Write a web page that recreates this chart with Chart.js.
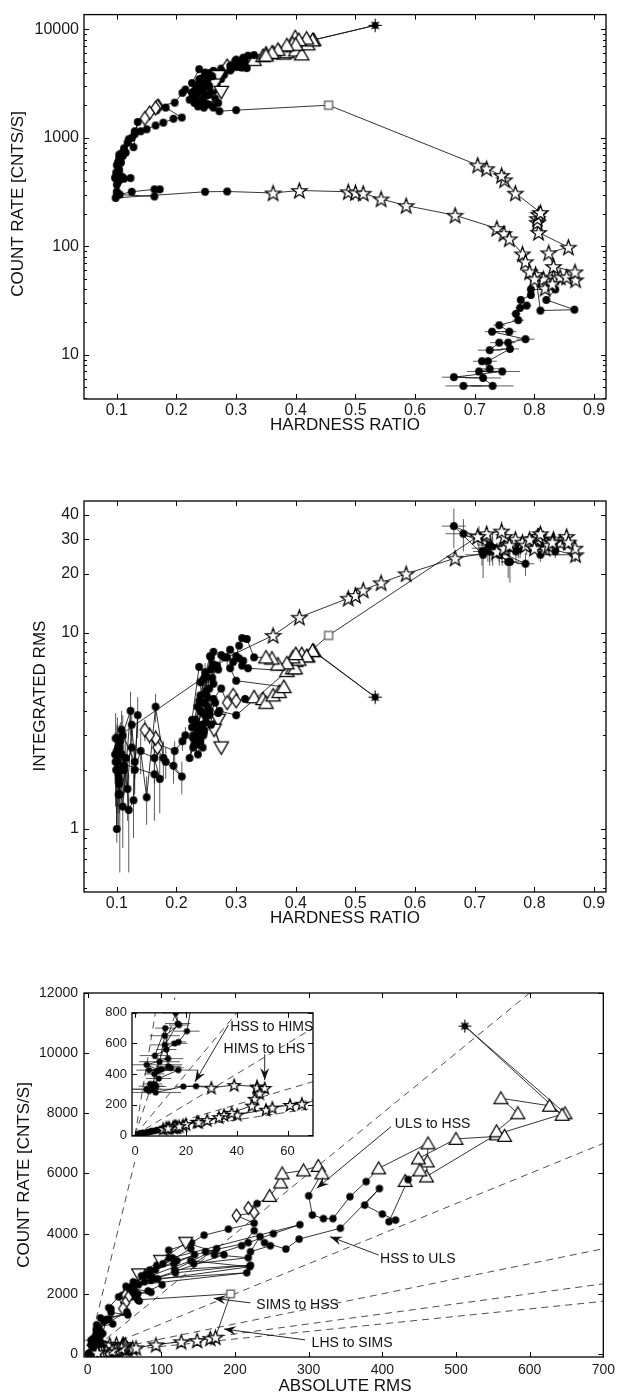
<!DOCTYPE html>
<html><head><meta charset="utf-8">
<script src="https://cdn.jsdelivr.net/npm/chart.js@4.4.1/dist/chart.umd.min.js"></script>
<style>
html,body{margin:0;padding:0;background:#fff;}
#wrap{position:relative;width:620px;height:1396px;overflow:hidden;background:#fff;}
canvas{position:absolute;}
</style></head>
<body><div id="wrap">
<canvas id="c1" width="620" height="445" style="left:0;top:0"></canvas>
<canvas id="c2" width="620" height="480" style="left:0;top:460px"></canvas>
<canvas id="c3" width="620" height="446" style="left:0;top:950px"></canvas>
<canvas id="c4" width="240" height="162" style="left:95px;top:1000px"></canvas>
</div>
<script>
const FONT = "'Liberation Sans', Arial, Helvetica, sans-serif";

// ---------- tick labels ----------
const hrTicks = [0.1,0.2,0.3,0.4,0.5,0.6,0.7,0.8,0.9];
const hrTickLabels = ['0.1','0.2','0.3','0.4','0.5','0.6','0.7','0.8','0.9'];
const rateLogTicks = [10,100,1000,10000];
const rateLogLabels = ['10','100','1000','10000'];
const rmsTicks = [1,10,20,30,40];
const rmsTickLabels = ['1','10','20','30','40'];
const absTicks = [0,100,200,300,400,500,600,700];
const absTickLabels = ['0','100','200','300','400','500','600','700'];
const rateLinTicks = [0,2000,4000,6000,8000,10000,12000];
const rateLinLabels = ['0','2000','4000','6000','8000','10000','12000'];
const insetAbsTicks = [0,20,40,60];
const insetAbsLabels = ['0','20','40','60'];
const insetRateTicks = [0,200,400,600,800];
const insetRateLabels = ['0','200','400','600','800'];
const rmsLevelsMain = [1,5,10,20,30,40];
const rmsLevelsInset = [1,2,5,10,20,30,40];

// ---------- data: tracks in time order (hardness, count rate, integrated rms %, absolute rms, marker) ----------
// markers: o filled circle, p star, ^ triangle, v down triangle, d diamond, s square, * asterisk
const riseLowHR   = [.681,.730,.714,.665,.746,.707,.725,.712,.722,.759,.725,.741,.756,.785,.729,.758,.741,.773,.769,.776,.787,.777,.794,.794,.835,.820,.867,.810];
const riseLowRate = [5.15,5.15,6.1,6.2,7.0,7.0,7.4,8.7,8.7,11.3,11,12.9,12.9,13.9,16.3,16.3,18.7,20.8,23.8,27,28.4,32,35.5,40,40,32,26,25.5];
const riseLowRms  = [32,27,25,35,27,31,28,26,27,23,26,25,23,22.5,27,27,26,27,26,27,28,27,28,27,26,27,25,25];
const riseLowAbs  = [1.6,1.4,1.5,2.2,1.9,2.2,2.1,2.3,2.3,2.6,2.9,3.2,3.0,3.1,4.4,4.4,4.9,5.6,6.2,7.3,8.0,8.6,9.9,10.8,10.4,8.6,6.5,6.4];
const riseLowMk   = 'o'.repeat(28);
const riseLowHRErr  = [.03,.035,.03,.02,.03,.02,.02,.015,.015,.015,.02,.015,.012,.015,.012,.012,.01,.01,.008,.008,.008,.006,.006,.006,.006,.006,.006,.006];
const riseLowRmsErr = [6,5,6,8,5,4,5,4,4,5,4,3,4,3,4,3,3,3,3,3,3,2,2,2,2,2,2,2];

const riseHardHR   = [.802,.818,.815,.832,.843,.854,.869,.868,.832,.824,.857,.807,.805,.805,.807,.810,.768,.750,.745,.720,.705,.455];
const riseHardRate = [55,41,50,52,52,52,49,58,65,87,98,134,166,180,197,205,309,410,450,520,560,2000];
const riseHardRms  = [30,27,30,30,29,31,25,27,29,28,29,30,31,30,31,32,30,31,33,32,31,9.7];
const riseHardAbs  = [16.5,11.1,15,15.6,15.1,16.1,12.3,15.7,18.9,24.4,28.4,40.2,51.5,54,61,65.6,92.7,127,148.5,166.4,173.6,194];
const riseHardMk   = 'p'.repeat(21) + 's';
const riseHardRmsErr = [2,2,2,2,2,2,2,2,2,2,2,2,2,2,2,2,2,3,4,3,3,0.3];

const hssRiseHR   = [.300,.272,.262,.245,.232,.228,.236,.242,.238,.248,.255,.262,.275];
const hssRiseRate = [1800,1760,1900,2100,2350,2650,2950,3200,3450,3700,3950,4150,4350];
const hssRiseRms  = [3.8,4.0,3.4,3.0,2.7,2.9,3.2,3.4,3.2,3.8,4.0,4.6,5.2];
const hssRiseAbs  = [68,70,65,63,63,77,94,109,110,141,158,191,226];
const hssRiseMk   = 'o'.repeat(13);

const ulsRiseHR   = [.285,.295,.300,.315,.330,.345,.350,.362,.372,.380];
const ulsRiseRate = [4600,4700,4850,5000,5250,5700,6000,6100,6250,6000];
const ulsRiseRms  = [4.4,4.8,4.5,4.6,4.7,4.6,4.4,4.8,5.0,5.3];
const ulsRiseAbs  = [202,226,218,230,247,262,264,293,313,318];
const ulsRiseMk   = 'dddo^^^^^^';

const dipHR   = [.300,.290,.295,.305,.310,.320];
const dipRate = [5260,4620,4500,4500,5230,5730];
const dipRms  = [5.7,6.6,7.1,7.4,6.8,6.6];
const dipAbs  = [300,305,320,333,356,378];
const dipMk   = 'oooooo';

const peakHR   = [.385,.395,.400,.410,.420,.430,.533];
const peakRate = [6170,7000,6400,5900,7300,8000,10900];
const peakRms  = [6.4,6.6,7.2,7.8,7.6,8.1,4.7];
const peakAbs  = [395,462,461,460,555,648,512];
const peakMk   = '^^^^^^*';

const ulsDecHR   = [.428,.418,.399,.405,.395,.400,.385,.370,.360,.350];
const ulsDecRate = [7950,8250,8500,8000,7400,7250,7150,6500,6100,5750];
const ulsDecRms  = [8.1,7.6,6.6,7.3,7.5,7.8,7.0,6.9,7.4,7.5];
const ulsDecAbs  = [644,627,561,584,555,566,500,449,451,431];
const ulsDecMk   = '^'.repeat(10);

const decAHR   = [.330,.318,.310,.305,.300,.312,.290,.280,.275,.270,.262];
const decARate = [5800,4400,4450,4650,4950,5500,4180,3820,3490,3700,3600];
const decARms  = [7.5,9.3,9.4,8.6,7.6,7.2,8.2,7.5,7.7,6.5,6.9];
const decAAbs  = [435,409,418,400,376,396,343,287,269,240,248];
const decAMk   = 'o'.repeat(11);

const decBHR   = [.258,.250,.262,.245,.255,.268,.240,.250,.235,.258,.245,.232,.262,.228,.240,.250,.256,.238,.226,.244,.252,.236,.230,.246,.240];
const decBRate = [3400,3900,4100,3600,3300,3200,3000,3500,2800,2950,2700,2500,2700,2300,2200,2450,2900,3100,2600,2200,2050,1950,2100,2400,3300];
const decBRms  = [6.5,6.0,5.5,5.8,5.2,6.8,4.8,5.0,4.2,7.5,4.4,3.6,8.0,3.0,2.8,3.5,7.6,4.5,3.3,2.6,4.2,2.4,2.7,3.2,5.6];
const decBAbs  = [221,234,226,209,172,218,144,175,118,221,119,90,216,69,62,86,220,140,86,57,86,47,57,77,185];
const decBMk   = 'o'.repeat(25);

const decCHR   = [.270,.263,.275,.255,.248,.240];
const decCRate = [3700,3100,2650,3000,3300,3500];
const decCRms  = [3.6,3.2,2.6,3.9,4.4,4.0];
const decCAbs  = [133,99,69,117,145,140];
const decCMk   = 'vvvooo';

const decEHR   = [.235,.228,.222,.232,.244,.252,.260,.248,.238,.226,.234,.243,.255,.265,.270,.258,.246,.236];
const decERate = [2600,2400,2250,2800,3100,3400,3700,4000,4300,3200,3000,2750,2500,2300,2100,2000,1900,2050];
const decERms  = [3.0,2.6,2.3,3.3,3.9,4.7,5.9,6.3,6.7,3.6,3.4,3.1,3.8,4.4,3.9,3.4,3.1,2.7];
const decEAbs  = [78,62,52,92,121,160,218,252,288,115,102,85,95,101,82,68,59,55];
const decEMk   = 'o'.repeat(18);

const arcHR   = [.215,.210,.197,.170,.168,.165,.155,.147,.182,.209,.195,.178,.165,.150,.140,.130,.135,.128,.120,.115,.107,.104,.100,.098,.110,.123,.100];
const arcRate = [2790,2600,2110,1950,1950,1880,1700,1510,1900,1540,1500,1380,1300,1200,1150,1080,1400,820,970,730,590,500,460,425,425,425,370];
const arcRms  = [3.0,2.8,2.5,2.7,2.6,2.9,3.0,3.2,2.2,1.85,2.1,2.3,4.2,1.45,2.5,2.0,3.8,1.4,1.25,2.3,2.0,2.6,1.0,2.2,1.3,4.0,2.5];
const arcAbs  = [84,73,53,53,51,55,51,48,42,28.5,31.5,31.7,54.6,17.4,28.8,21.6,53.2,11.5,12.1,16.8,11.8,13,4.6,9.4,5.5,17,9.3];
const arcMk   = 'ooo' + 'ddddd' + 'o'.repeat(19);
const arcRmsErr = [.3,.3,.3,.3,.3,.3,.3,.4,.4,.35,.4,.5,.7,.4,.6,.5,.9,.5,.65,.7,.7,.8,.15,.9,.5,1.0,.9];
const arcAbsErr = [0,0,0,0,0,0,0,0,0,0,0,0,0,0,0,0,0,4,0,5,6,6,14,5,5,8,5];

const softHR   = [.103,.099,.104,.108,.112,.118,.125,.130,.110,.106,.102,.100,.103,.104,.101,.097,.108,.112];
const softRate = [400,480,650,720,800,900,1000,1150,680,610,600,560,520,700,450,430,440,420];
const softRms  = [1.9,2.0,1.8,2.4,2.0,1.6,3.4,2.2,3.0,2.8,2.6,2.2,1.5,1.7,2.9,2.4,3.2,2.1];
const softAbs  = [7.6,9.6,11.7,17.3,16,14.4,34,25.3,20.4,17.1,15.6,12.3,7.8,11.9,13.1,10.3,14.1,8.8];
const softMk   = 'o'.repeat(18);
const softRmsErr = [.6,.7,.6,.6,.5,.5,.6,.4,.8,.7,.7,.6,.5,.5,.8,.7,.8,.6];
const softAbsErr = [4,8,6,4,5,4,0,0,5,3,5,4,6,4,5,3,5,3];

const lowHR   = [.100,.105,.125,.163,.172,.163,.100,.098,.248,.285,.362,.406,.488,.500,.513,.543,.585,.667,.737,.749,.758,.780,.785,.792,.800,.830];
const lowRate = [320,300,318,335,335,288,300,279,318,320,310,327,318,312,308,273,237,193,146,131,117,85,72,58,50,45];
const lowRms  = [2.0,1.5,2.6,2.3,1.8,1.9,2.2,2.9,6.0,7.5,9.7,12,15,15.5,16.5,18,20,24,26,27,28,29,28,30,27,29];
const lowAbs  = [6.4,4.5,8.3,7.7,6.0,5.5,6.6,8.1,19,24,30,39,48,48,51,49,47,46,38,35,33,25,20,17.4,13.5,13];
const lowMk   = 'o'.repeat(10) + 'p'.repeat(16);
const lowRmsErr = [.8,.9,.7,.6,.6,.8,.9,1.0,1.0,1.0,.6,.6,.6,.6,.7,.7,.8,1,1,1,1,1,1,1,1,1];
const lowAbsErr = [5,6,4,3,3,3,8,10,3,3,0,0,0,0,0,0,0,0,0,0,0,0,0,0,0,0];

const tracks = [
  {hr:riseLowHR, rate:riseLowRate, rms:riseLowRms, abs:riseLowAbs, mk:riseLowMk, hrErr:riseLowHRErr, rmsErr:riseLowRmsErr},
  {hr:riseHardHR, rate:riseHardRate, rms:riseHardRms, abs:riseHardAbs, mk:riseHardMk, rmsErr:riseHardRmsErr},
  {hr:hssRiseHR, rate:hssRiseRate, rms:hssRiseRms, abs:hssRiseAbs, mk:hssRiseMk},
  {hr:ulsRiseHR, rate:ulsRiseRate, rms:ulsRiseRms, abs:ulsRiseAbs, mk:ulsRiseMk},
  {hr:dipHR, rate:dipRate, rms:dipRms, abs:dipAbs, mk:dipMk},
  {hr:peakHR, rate:peakRate, rms:peakRms, abs:peakAbs, mk:peakMk},
  {hr:ulsDecHR, rate:ulsDecRate, rms:ulsDecRms, abs:ulsDecAbs, mk:ulsDecMk},
  {hr:decAHR, rate:decARate, rms:decARms, abs:decAAbs, mk:decAMk},
  {hr:decBHR, rate:decBRate, rms:decBRms, abs:decBAbs, mk:decBMk},
  {hr:decCHR, rate:decCRate, rms:decCRms, abs:decCAbs, mk:decCMk},
  {hr:decEHR, rate:decERate, rms:decERms, abs:decEAbs, mk:decEMk},
  {hr:arcHR, rate:arcRate, rms:arcRms, abs:arcAbs, mk:arcMk, rmsErr:arcRmsErr, absErr:arcAbsErr},
  {hr:softHR, rate:softRate, rms:softRms, abs:softAbs, mk:softMk, rmsErr:softRmsErr, absErr:softAbsErr},
  {hr:lowHR, rate:lowRate, rms:lowRms, abs:lowAbs, mk:lowMk, rmsErr:lowRmsErr, absErr:lowAbsErr}
];
function cat(key){
  const out=[];
  tracks.forEach(t=>{ const a=t[key]; for(let i=0;i<t.hr.length;i++){ out.push(a ? a[i] : 0); } });
  return out;
}
const allHR=cat('hr'), allRate=cat('rate'), allRms=cat('rms'), allAbs=cat('abs'), allMk=cat('mk');
const allHRErr=cat('hrErr'), allRmsErr=cat('rmsErr'), allAbsErr=cat('absErr');

// ---------- annotations (panel 3 data coordinates) ----------
const mainNotes = [
  {text:'ULS to HSS',  tx:417, ty:7510, ax0:412, ay0:7560, ax1:311, ay1:5510},
  {text:'HSS to ULS',  tx:397, ty:3035, ax0:395, ay0:3290, ax1:329, ay1:3900},
  {text:'SIMS to HSS', tx:229, ty:1486, ax0:221, ay0:1700, ax1:171, ay1:1850},
  {text:'LHS to SIMS', tx:304, ty:243,  ax0:295, ay0:470,  ax1:185, ay1:830}
];
const insetNotes = [
  {text:'HSS to HIMS', tx:37.4, ty:678, ax0:36.7, ay0:720, ax1:23.6, ay1:349},
  {text:'HIMS to LHS', tx:34.8, ty:540, ax0:51, ay0:529, ax1:51, ay1:360}
];

// ---------- marker images ----------
function markerSet(s){
  const lw=1.25;
  function cv(w,h,draw){
    const c=document.createElement('canvas'); c.width=Math.ceil(w); c.height=Math.ceil(h);
    const g=c.getContext('2d'); g.translate(c.width/2,c.height/2);
    g.lineWidth=lw; g.strokeStyle='#000'; g.fillStyle='#fff'; g.lineJoin='miter'; draw(g); return c;
  }
  const R=8.0*s, r=R*0.40;
  return {
    o: cv(9*s+3,9*s+3,g=>{g.beginPath();g.arc(0,0,3.9*s,0,2*Math.PI);g.fillStyle='#000';g.fill();}),
    p: cv(2*R+3,2*R+3,g=>{g.beginPath();for(let k=0;k<10;k++){const rr=k%2?r:R;const a=-Math.PI/2+k*Math.PI/5;g.lineTo(rr*Math.cos(a),rr*Math.sin(a)+R*0.095);}g.closePath();g.fill();g.stroke();}),
    '^': cv(16*s+3,15*s+3,g=>{const w=7.2*s,h=12.4*s;g.beginPath();g.moveTo(0,-h*0.55);g.lineTo(w,h*0.45);g.lineTo(-w,h*0.45);g.closePath();g.fill();g.stroke();}),
    v: cv(16*s+3,15*s+3,g=>{const w=7.2*s,h=12.4*s;g.beginPath();g.moveTo(0,h*0.55);g.lineTo(w,-h*0.45);g.lineTo(-w,-h*0.45);g.closePath();g.fill();g.stroke();}),
    d: cv(10*s+3,15*s+3,g=>{const w=4.6*s,h=6.8*s;g.beginPath();g.moveTo(0,-h);g.lineTo(w,0);g.lineTo(0,h);g.lineTo(-w,0);g.closePath();g.fill();g.stroke();}),
    s: cv(9*s+3,9*s+3,g=>{const a=4*s;g.strokeStyle='#555';g.fillRect(-a,-a,2*a,2*a);g.strokeRect(-a,-a,2*a,2*a);}),
    '*': cv(15*s+2,15*s+2,g=>{g.beginPath();g.arc(0,0,3.4*s,0,2*Math.PI);g.fillStyle='#000';g.fill();g.lineWidth=1.1;g.beginPath();for(let k=0;k<8;k++){const a=k*Math.PI/4;const L=(k%2?5.2:6.8)*s;g.moveTo(0,0);g.lineTo(L*Math.cos(a),L*Math.sin(a));}g.stroke();})
  };
}

// ---------- helpers ----------
function logMarks(min,max,labelled){
  const out=[];
  for(let d=Math.floor(Math.log10(min)); d<=Math.ceil(Math.log10(max)); d++){
    for(let m=1;m<10;m++){ const v=m*Math.pow(10,d); if(v>=min && v<=max) out.push({v, major: m===1 || labelled.includes(v)}); }
  }
  return out;
}
function linMarks(arr){ return arr.map(v=>({v, major:true})); }

function axis(type,min,max,ticks,labels,size,pad,pos,fit){
  return {
    type, position:pos, min, max,
    grid:{display:false, drawTicks:false, drawOnChartArea:false},
    border:{display:false},
    ticks:{autoSkip:false, maxRotation:0, minRotation:0, padding:pad, color:'#1a1a1a',
      font:{family:FONT, size}, callback:(v,i)=>labels[i]},
    afterBuildTicks:s=>{ s.ticks = ticks.map(v=>({value:v})); },
    afterFit:s=>{ if(pos==='left') s.width=fit; else s.height=fit; }
  };
}

const extras = new Map();
const framePlugin = {
  id:'frame',
  beforeDraw(chart){
    const e=extras.get(chart.canvas.id); if(!e||!e.bg) return;
    const c=chart.ctx; c.save(); c.fillStyle='#fff'; c.fillRect(e.bg[0],e.bg[1],e.bg[2],e.bg[3]); c.restore();
  },
  beforeDatasetsDraw(chart){
    const e=extras.get(chart.canvas.id); if(!e) return;
    const c=chart.ctx, a=chart.chartArea, xs=chart.scales.x, ys=chart.scales.y;
    c.save(); c.beginPath(); c.rect(a.left,a.top,a.right-a.left,a.bottom-a.top); c.clip();
    c.strokeStyle='#333'; c.lineWidth=0.8; c.beginPath();
    e.xs.forEach((x,i)=>{
      const y=e.ys[i]; const px=xs.getPixelForValue(x), py=ys.getPixelForValue(y);
      const ex=e.xErr?e.xErr[i]:0, ey=e.yErr?e.yErr[i]:0;
      if(ex>0){ c.moveTo(xs.getPixelForValue(x-ex),py); c.lineTo(xs.getPixelForValue(x+ex),py); }
      if(ey>0){ const lo=Math.max(y-ey, ys.min*1.0001); c.moveTo(px,ys.getPixelForValue(lo)); c.lineTo(px,ys.getPixelForValue(y+ey)); }
    });
    c.stroke(); c.restore();
  },
  afterDraw(chart){
    const e=extras.get(chart.canvas.id); if(!e) return;
    const c=chart.ctx, a=chart.chartArea, xs=chart.scales.x, ys=chart.scales.y;
    c.save();
    c.strokeStyle='#000'; c.lineWidth=1; c.beginPath();
    e.xMarks.forEach(t=>{ const p=Math.round(xs.getPixelForValue(t.v))+0.5; const L=t.major?5:3;
      c.moveTo(p,a.bottom); c.lineTo(p,a.bottom-L); c.moveTo(p,a.top); c.lineTo(p,a.top+L); });
    e.yMarks.forEach(t=>{ const p=Math.round(ys.getPixelForValue(t.v))+0.5; const L=t.major?5:3;
      c.moveTo(a.left,p); c.lineTo(a.left+L,p); c.moveTo(a.right,p); c.lineTo(a.right-L,p); });
    c.stroke();
    c.lineWidth=1.3; c.strokeRect(a.left,a.top,a.right-a.left,a.bottom-a.top);
    c.fillStyle='#111';
    (e.titles||[]).forEach(t=>{
      c.save(); c.font=t.size+'px '+FONT; c.textAlign='center';
      if(t.rot){ c.translate(t.x,t.y); c.rotate(-Math.PI/2); c.textBaseline='middle'; c.fillText(t.text,0,0); }
      else { c.textBaseline='alphabetic'; c.fillText(t.text,t.x,t.y); }
      c.restore();
    });
    (e.notes||[]).forEach(n=>{
      c.font='14px '+FONT; c.textAlign='left'; c.textBaseline='alphabetic'; c.fillStyle='#111';
      c.fillText(n.text, xs.getPixelForValue(n.tx), ys.getPixelForValue(n.ty));
      const x0=xs.getPixelForValue(n.ax0), y0=ys.getPixelForValue(n.ay0), x1=xs.getPixelForValue(n.ax1), y1=ys.getPixelForValue(n.ay1);
      c.strokeStyle='#111'; c.lineWidth=0.9; c.beginPath(); c.moveTo(x0,y0); c.lineTo(x1,y1); c.stroke();
      const ang=Math.atan2(y1-y0,x1-x0), L=12, W=4.5;
      const bx=x1-L*Math.cos(ang), by=y1-L*Math.sin(ang);
      const nx=x1-L*0.65*Math.cos(ang), ny=y1-L*0.65*Math.sin(ang);
      c.beginPath(); c.moveTo(x1,y1);
      c.lineTo(bx+W*Math.sin(ang), by-W*Math.cos(ang));
      c.lineTo(nx,ny);
      c.lineTo(bx-W*Math.sin(ang), by+W*Math.cos(ang));
      c.closePath(); c.fill();
    });
    c.restore();
  }
};

function makeChart(id, o){
  const imgs = markerSet(o.ms);
  const datasets = [{
    data: o.xs.map((x,i)=>({x, y:o.ys[i]})),
    showLine:true, borderColor:'#111', borderWidth:0.85, tension:0,
    pointStyle: allMk.map(k=>imgs[k]), pointRadius:4, pointHoverRadius:4, order:0
  }];
  (o.refLevels||[]).forEach(r=>{
    datasets.push({ data:[{x:0,y:0},{x:o.refX, y:o.refX*100/r}], showLine:true, borderColor:'#222',
      borderWidth:0.8, borderDash:[7,5], pointRadius:0, pointHoverRadius:0, order:5 });
  });
  extras.set(id, {xs:o.xs, ys:o.ys, xErr:o.xErr, yErr:o.yErr, xMarks:o.xMarks, yMarks:o.yMarks, titles:o.titles, notes:o.notes, bg:o.bg});
  return new Chart(document.getElementById(id), {
    type:'scatter',
    data:{datasets},
    options:{
      responsive:false, animation:false, devicePixelRatio:1, events:[],
      layout:{padding:{top:o.padTop, right:o.padRight, left:0, bottom:0}},
      plugins:{legend:{display:false}, tooltip:{enabled:false}},
      scales:{ x:o.x, y:o.y }
    },
    plugins:[framePlugin]
  });
}

// ---------- panel 1: count rate vs hardness ----------
makeChart('c1', {
  ms:1, xs:allHR, ys:allRate, xErr:allHRErr,
  padTop:9, padRight:14,
  x: axis('linear',0.045,0.92,hrTicks,hrTickLabels,16,2,'bottom',46),
  y: axis('logarithmic',3.9,13700,rateLogTicks,rateLogLabels,16,5,'left',84),
  xMarks: linMarks(hrTicks), yMarks: logMarks(3.9,13700,rateLogTicks),
  titles:[{text:'HARDNESS RATIO',x:345,y:430,size:17},{text:'COUNT RATE [CNTS/S]',x:18,y:204,size:17,rot:true}]
});

// ---------- panel 2: integrated rms vs hardness ----------
makeChart('c2', {
  ms:1, xs:allHR, ys:allRms, xErr:allHRErr, yErr:allRmsErr,
  padTop:41, padRight:14,
  x: axis('linear',0.045,0.92,hrTicks,hrTickLabels,16,2,'bottom',48),
  y: axis('logarithmic',0.477,47,rmsTicks,rmsTickLabels,16,5,'left',84),
  xMarks: linMarks(hrTicks), yMarks: logMarks(0.477,47,rmsTicks),
  titles:[{text:'HARDNESS RATIO',x:345,y:463,size:17},{text:'INTEGRATED RMS',x:40,y:236,size:17,rot:true}]
});

// ---------- panel 3: count rate vs absolute rms ----------
makeChart('c3', {
  ms:0.95, xs:allAbs, ys:allRate, xErr:allAbsErr,
  padTop:43, padRight:14,
  refLevels:rmsLevelsMain, refX:700,
  x: axis('linear',-5,700,absTicks,absTickLabels,14,5,'bottom',39),
  y: axis('linear',-100,12000,rateLinTicks,rateLinLabels,14,6,'left',84),
  xMarks: linMarks(absTicks), yMarks: linMarks(rateLinTicks),
  titles:[{text:'ABSOLUTE RMS',x:345,y:441,size:17},{text:'COUNT RATE [CNTS/S]',x:24,y:225,size:17,rot:true}],
  notes: mainNotes
});

// ---------- inset ----------
makeChart('c4', {
  ms:0.8, xs:allAbs, ys:allRate, xErr:allAbsErr,
  padTop:9, padRight:22,
  refLevels:rmsLevelsInset, refX:70,
  x: axis('linear',-1.2,70,insetAbsTicks,insetAbsLabels,13,8,'bottom',26),
  y: axis('linear',-6,800,insetRateTicks,insetRateLabels,13,5,'left',37),
  xMarks: linMarks(insetAbsTicks), yMarks: linMarks(insetRateTicks),
  titles:[], notes: insetNotes, bg:[5,0,213,162]
});
</script>
</body></html>
